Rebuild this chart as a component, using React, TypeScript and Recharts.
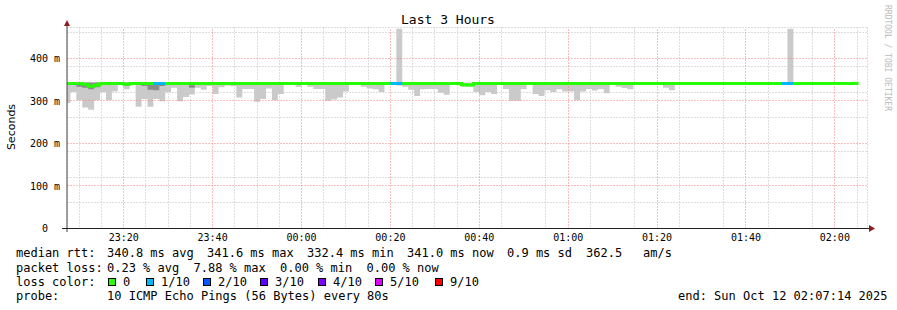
import React from 'react';
import { Area, CartesianGrid, ComposedChart, Line, ReferenceLine, XAxis, YAxis } from 'recharts';

// minutes after 23:00; one SmokePing round every 80 s
const STEP = 80 / 60;
const FIRST_ROUND = 6.67;
const VIEW: [number, number] = [7.233, 187.233];
const RTT_RANGE: [number, number] = [0, 474];

const hourTicks = [20, 40, 60, 80, 100, 120, 140, 160, 180];
const minuteTicks = [
  10, 15, 25, 30, 35, 45, 50, 55, 65, 70, 75, 85, 90, 95, 105, 110, 115, 125, 130, 135, 145, 150,
  155, 165, 170, 175, 185,
];
const rttTicks = [0, 100, 200, 300, 400];
const rttGridTicks = [100, 200, 300, 400];
const rttMinorTicks = [
  20, 40, 60, 80, 120, 140, 160, 180, 220, 240, 260, 280, 320, 340, 360, 380, 420, 440, 460,
];

// median rtt per round (ms)
const median = [
  341, 341, 341, 339, 334, 337, 341, 341, 341, 341,
  339, 341, 341, 341, 341, 341, 341, 341, 341, 341,
  341, 341, 341, 341, 341, 341, 341, 341, 341, 341,
  341, 341, 341, 341, 341, 341, 341, 341, 341, 341,
  341, 341, 341, 341, 341, 341, 341, 341, 341, 341,
  341, 341, 341, 341, 341, 341, 341, 341, 341, 341,
  341, 341, 341, 341, 341, 341, 341, 338, 337, 341,
  341, 341, 341, 341, 341, 341, 341, 341, 341, 341,
  341, 341, 341, 341, 341, 341, 341, 341, 341, 341,
  341, 341, 341, 341, 341, 341, 341, 341, 341, 341,
  341, 341, 341, 341, 341, 341, 341, 341, 341, 341,
  341, 341, 341, 341, 341, 341, 341, 341, 341, 341,
  341, 341, 341, 341, 341, 341, 341, 341, 341, 341,
  341, 341, 341, 341,
];

// fastest ping per round (bottom of the smoke)
const smokeLow = [
  295, 321, 301, 284, 279, 301, 320, 301, 322, 337,
  327, 338, 286, 304, 286, 304, 299, 320, 331, 299,
  309, 315, 331, 326, 335, 316, 332, 336, 334, 308,
  328, 328, 298, 304, 329, 301, 316, 340, 340, 333,
  340, 333, 328, 328, 300, 303, 308, 322, 340, 340,
  333, 329, 327, 321, 340, 340, 336, 333, 326, 311,
  327, 328, 328, 319, 314, 340, 337, 333, 333, 321,
  313, 321, 316, 340, 328, 300, 300, 328, 340, 316,
  311, 325, 321, 327, 322, 322, 301, 322, 328, 324,
  328, 318, 340, 333, 330, 327, 340, 340, 340, 340,
  340, 331, 325, 340, 340, 340, 340, 340, 340, 340,
  340, 340, 340, 340, 340, 340, 340, 340, 340, 340,
  340, 340, 340, 340, 340, 340, 340, 340, 340, 340,
  340, 340, 340, 340,
];

// slowest ping per round (top of the smoke)
const smokeHigh = [
  343, 343, 343, 343, 343, 343, 343, 343, 343, 343,
  343, 343, 343, 343, 343, 343, 343, 343, 343, 343,
  343, 343, 343, 343, 343, 343, 343, 343, 343, 343,
  343, 343, 343, 343, 343, 343, 343, 343, 343, 343,
  343, 343, 343, 343, 343, 343, 343, 343, 343, 343,
  343, 343, 343, 343, 343, 343, 470, 343, 343, 343,
  343, 343, 343, 343, 343, 343, 343, 343, 343, 343,
  343, 343, 343, 343, 343, 343, 343, 343, 343, 343,
  343, 343, 343, 343, 343, 343, 343, 343, 343, 343,
  343, 343, 343, 343, 343, 343, 343, 343, 343, 343,
  343, 343, 343, 343, 343, 343, 343, 343, 343, 343,
  343, 343, 343, 343, 343, 343, 343, 343, 343, 343,
  343, 343, 470, 343, 343, 343, 343, 343, 343, 343,
  343, 343, 343, 343,
];

// lower edge of the dense (dark) part of the smoke, null where none shows
const coreLow: (number | null)[] = [
  null, null, 333, 331, 327, 332, 337, null, null, null,
  336, null, null, 335, 326, 325, 335, null, null, null,
  null, 331, null, null, null, null, null, null, null, null,
];

// pings lost out of 10
const lostPings = [
  0, 0, 0, 0, 0, 0, 0, 0, 0, 0,
  0, 0, 0, 0, 0, 1, 1, 0, 0, 0,
  0, 0, 0, 0, 0, 0, 0, 0, 0, 0,
  0, 0, 0, 0, 0, 0, 0, 0, 0, 0,
  0, 0, 0, 0, 0, 0, 0, 0, 0, 0,
  0, 0, 0, 0, 0, 1, 1, 0, 0, 0,
  0, 0, 0, 0, 0, 0, 0, 0, 0, 0,
  0, 0, 0, 0, 0, 0, 0, 0, 0, 0,
  0, 0, 0, 0, 0, 0, 0, 0, 0, 0,
  0, 0, 0, 0, 0, 0, 0, 0, 0, 0,
  0, 0, 0, 0, 0, 0, 0, 0, 0, 0,
  0, 0, 0, 0, 0, 0, 0, 0, 0, 0,
  0, 1, 1, 0, 0, 0, 0, 0, 0, 0,
  0, 0, 0, 0,
];

const lossLabels = ['0', '1/10', '2/10', '3/10', '4/10', '5/10', '9/10'];
const lossColors = ['#26ff00', '#00b8ff', '#0059ff', '#5e00ff', '#7e00ff', '#dd00ff', '#ff0000'];

const rows = Array.from({ length: median.length + 1 }, (_, i) => {
  const j = Math.min(i, median.length - 1);
  const lossNow = i < median.length ? lostPings[i] : 0;
  const lossPrev = i > 0 ? lostPings[i - 1] : 0;
  const core = coreLow[j] ?? null;
  return {
    t: FIRST_ROUND + i * STEP,
    median: median[j],
    smoke: [smokeLow[j], smokeHigh[j]],
    core: core == null ? [median[j], median[j]] : [core, 343],
    lossy: lossNow > 0 ? median[j] : lossPrev > 0 ? median[i - 1] : null,
  };
});

const clock = (t: number) => {
  const h = (23 + Math.floor(t / 60)) % 24;
  const m = Math.round(t % 60);
  return `${String(h).padStart(2, '0')}:${String(m).padStart(2, '0')}`;
};

const MONO = '"DejaVu Sans Mono", monospace';
const MGRID = '#f08080';
const GRID = '#bdbdbd';

// grid lines snapped to whole pixels so the dots stay crisp
const snap = (v: number) => Math.floor(v) + 0.5;
const gridLine = (color: string) => (p: any) => (
  <line
    key={`${p.x1}-${p.y1}-${p.index ?? ''}`}
    x1={snap(p.x1)}
    y1={snap(p.y1)}
    x2={snap(p.x2)}
    y2={snap(p.y2)}
    stroke={color}
    strokeWidth={1}
    strokeDasharray="1 2"
    fill="none"
  />
);

function RttTick(props: any) {
  const { x, y, payload } = props;
  const v = payload.value;
  return (
    <text x={x} y={Math.round(y) + 4} textAnchor="end" fontSize={10} fontFamily={MONO} fill="#000" stroke="none" xmlSpace="preserve" style={{ whiteSpace: 'pre' }}>
      {v === 0 ? '0  ' : `${v} m`}
    </text>
  );
}

const statLines: [string, number][][] = [
  [['median rtt:', 16], ['340.8 ms avg', 107], ['341.6 ms max', 207], ['332.4 ms min', 307], ['341.0 ms now', 407], ['0.9 ms sd', 507], ['362.5', 586], ['am/s', 643]],
  [['packet loss:', 16], ['0.23 % avg', 107], ['7.88 % max', 193.5], ['0.00 % min', 280], ['0.00 % now', 366.5]],
  [['loss color:', 16]],
  [['probe:', 16], ['10 ICMP Echo Pings (56 Bytes) every 80s', 107], ['end: Sun Oct 12 02:07:14 2025', 678]],
];
const statBaselines = [257, 271.5, 286, 300];
const swatchX = [108, 146, 203, 260, 318, 375, 435];

export default function App() {
  return (
    <div style={{ position: 'fixed', left: 0, top: 0, width: 897, height: 310, background: '#fff' }}>
      <ComposedChart width={897} height={310} data={rows} margin={{ top: 27, right: 30, bottom: 62, left: 0 }}>
        <XAxis xAxisId="minor" type="number" dataKey="t" domain={VIEW} ticks={minuteTicks} allowDataOverflow hide />
        <YAxis yAxisId="minor" type="number" domain={RTT_RANGE} ticks={rttMinorTicks} allowDataOverflow hide />
        <CartesianGrid xAxisId="minor" yAxisId="minor" horizontal={gridLine(GRID)} vertical={gridLine(GRID)} />
        <XAxis
          type="number"
          dataKey="t"
          domain={VIEW}
          ticks={hourTicks}
          allowDataOverflow
          tickFormatter={clock}
          height={20}
          tickSize={0}
          tickMargin={6}
          axisLine={false}
          tick={{ fontSize: 10, fontFamily: MONO, fill: '#000' }}
        />
        <YAxis type="number" domain={RTT_RANGE} ticks={rttTicks} allowDataOverflow width={67} tickSize={0} tickMargin={7} axisLine={false} tick={<RttTick />} />
        {hourTicks.map((t) => (
          <ReferenceLine key={`h${t}`} x={t} stroke={MGRID} shape={gridLine(MGRID)} />
        ))}
        {rttGridTicks.map((v) => (
          <ReferenceLine key={`v${v}`} y={v} stroke={MGRID} shape={gridLine(MGRID)} />
        ))}
        <Area type="stepAfter" dataKey="smoke" stroke="none" fill="#cacaca" fillOpacity={1} isAnimationActive={false} dot={false} activeDot={false} />
        <Area type="stepAfter" dataKey="core" stroke="none" fill="#8a8a8a" fillOpacity={1} isAnimationActive={false} dot={false} activeDot={false} />
        <Line type="stepAfter" dataKey="median" stroke="#26ff00" strokeWidth={3} dot={false} activeDot={false} isAnimationActive={false} />
        <Line type="stepAfter" dataKey="lossy" stroke="#00b8ff" strokeWidth={3} dot={false} activeDot={false} isAnimationActive={false} />
      </ComposedChart>

      <svg width={897} height={310} style={{ position: 'absolute', left: 0, top: 0, pointerEvents: 'none' }}>
        <line x1={67} y1={232} x2={67} y2={26} stroke="#444" strokeWidth={1} />
        <line x1={62} y1={228.5} x2={869} y2={228.5} stroke="#222" strokeWidth={1} />
        <polygon points="64,26 70,26 67,20" fill="#8e1b1b" />
        <polygon points="869,225 869,232 875,228.5" fill="#8e1b1b" />
        <text x={448} y={24} textAnchor="middle" fontSize={13} fontFamily={MONO} fill="#000">Last 3 Hours</text>
        <text transform="translate(15,127) rotate(-90)" textAnchor="middle" fontSize={11} fontFamily='"DejaVu Sans", sans-serif' fill="#000">Seconds</text>
        <text transform="translate(885,5) rotate(90)" fontSize={8} fontFamily={MONO} fill="#bbb">RRDTOOL / TOBI OETIKER</text>
        {statLines.map((line, li) =>
          line.map(([txt, x]) => (
            <text key={`${li}-${x}`} x={x} y={statBaselines[li]} fontSize={12} fontFamily={MONO} fill="#000" xmlSpace="preserve">
              {txt}
            </text>
          ))
        )}
        {lossLabels.map((lab, i) => (
          <g key={lab}>
            <rect x={swatchX[i] + 0.5} y={278.5} width={7} height={7} fill={lossColors[i]} stroke="#000" strokeWidth={1} />
            <text x={swatchX[i] + 15} y={statBaselines[2]} fontSize={12} fontFamily={MONO} fill="#000">{lab}</text>
          </g>
        ))}
      </svg>
    </div>
  );
}
